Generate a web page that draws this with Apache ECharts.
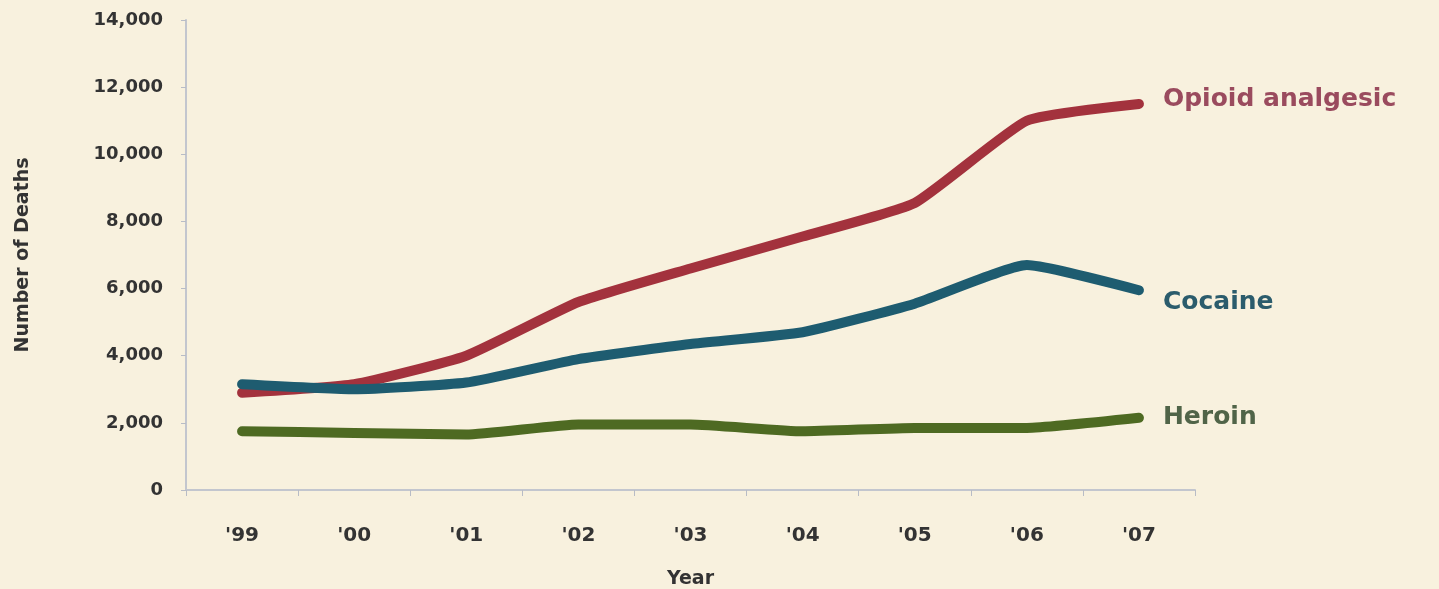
<!DOCTYPE html>
<html><head><meta charset="utf-8">
<script src="https://cdn.jsdelivr.net/npm/echarts@6/dist/echarts.min.js"></script>
<style>html,body{margin:0;padding:0;background:#F8F1DE;}#c{width:1439px;height:589px;}</style>
</head><body><div id="c"></div>
<script>
const years = ["'99","'00","'01","'02","'03","'04","'05","'06","'07"];
const opioid = [2900, 3150, 4000, 5600, 6600, 7550, 8550, 11000, 11500];
const cocaine = [3150, 3000, 3200, 3900, 4350, 4700, 5550, 6700, 5950];
const heroin = [1750, 1700, 1650, 1950, 1950, 1750, 1850, 1850, 2150];
const yTicks = {min: 0, max: 14000, interval: 2000};

const chart = echarts.init(document.getElementById('c'));
function mk(name, data, color, labelColor, off){
  return {
    name, type:'line', data, smooth:0.15, symbol:'none',
    lineStyle:{width:10, color, cap:'round', join:'round'},
    itemStyle:{color},
    endLabel:{show:true, formatter:'{a}', color:labelColor, fontFamily:'DejaVu Sans', fontWeight:'bold', fontSize:25, offset:off, distance:14}
  };
}
chart.setOption({
  backgroundColor:'#F8F1DE',
  animation:false,
  grid:{left:186, right:244, top:20, bottom:99, containLabel:false, outerBoundsMode:'none'},
  xAxis:{type:'category', data:years, boundaryGap:true,
    axisLine:{lineStyle:{color:'#C3C6CE', width:2}},
    axisTick:{show:true, length:6, lineStyle:{color:'#B8BCC6'}},
    axisLabel:{margin:36, color:'#333', fontFamily:'DejaVu Sans', fontWeight:'bold', fontSize:20},
    name:'Year', nameLocation:'middle', nameGap:80,
    nameTextStyle:{color:'#333', fontFamily:'DejaVu Sans', fontWeight:'bold', fontSize:19}
  },
  yAxis:{type:'value', min:yTicks.min, max:yTicks.max, interval:yTicks.interval,
    splitLine:{show:false},
    axisLine:{show:true, lineStyle:{color:'#C3C6CE', width:2}},
    axisTick:{show:true, length:5, lineStyle:{color:'#B8BCC6'}},
    axisLabel:{margin:23, color:'#333', fontFamily:'DejaVu Sans', fontWeight:'bold', fontSize:18,
      formatter:v=>v.toLocaleString('en-US')},
    name:'Number of Deaths', nameLocation:'middle', nameGap:153, nameRotate:90,
    nameTextStyle:{color:'#333', fontFamily:'DejaVu Sans', fontWeight:'bold', fontSize:19}
  },
  series:[
    mk('Opioid analgesic', opioid, '#A3323D', '#9A4B5E', [10,-4]),
    mk('Cocaine', cocaine, '#1E5C70', '#2B5C6C', [10,12]),
    mk('Heroin', heroin, '#4E6A22', '#506448', [10,0])
  ]
});
</script></body></html>
